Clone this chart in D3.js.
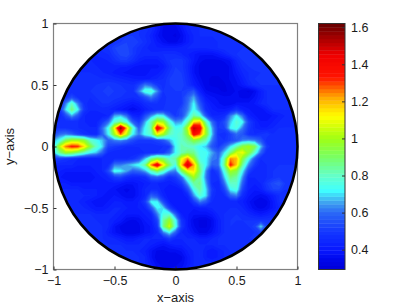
<!DOCTYPE html>
<html lang="en">
<head>
<meta charset="UTF-8">
<title>Disc map</title>
<script src="https://d3js.org/d3.v7.min.js"></script>
<style>
  body { margin: 0; background: #fff; overflow: hidden; }
  text { font-family: "Liberation Sans", Arial, sans-serif; fill: #1a1a1a; }
</style>
</head>
<body>
<script>
// field values x 100, rows run y = 1 .. -1, columns x = -1 .. 1, step 0.05
const fieldRows = [
[45,45,45,45,45, 45,45,45,45,45, 45,45,45,45,46, 45,44,40,36,35, 36,40,44,45,46, 46,46,46,46,46, 46,46,46,46,46, 46,46,46,46,46, 46],
[45,45,45,45,45, 45,45,45,45,45, 45,46,47,47,48, 47,45,40,35,34, 34,38,43,45,46, 46,46,46,46,46, 46,46,46,46,46, 46,46,46,46,46, 46],
[45,45,45,45,45, 45,45,45,45,46, 48,49,50,50,48, 46,43,38,35,34, 33,36,41,44,46, 46,46,47,47,47, 47,47,47,47,47, 47,47,47,47,47, 47],
[45,45,45,45,45, 45,45,45,46,46, 48,50,52,52,50, 47,44,40,37,35, 35,37,41,44,45, 45,45,46,46,47, 47,47,47,47,47, 47,47,47,47,47, 47],
[45,45,45,45,45, 46,46,46,47,48, 52,54,53,50,47, 45,42,42,42,42, 42,43,44,44,44, 44,45,46,47,47, 47,48,48,48,48, 48,48,48,48,48, 48],
[45,45,45,45,45, 44,44,44,45,46, 50,53,54,50,46, 45,45,45,46,46, 46,44,42,40,38, 38,38,40,43,46, 48,48,48,48,48, 48,48,48,48,48, 48],
[45,45,45,45,45, 44,44,43,43,44, 47,50,50,47,43, 41,41,41,44,48, 49,49,45,40,36, 35,35,35,36,38, 44,48,49,50,50, 50,50,50,50,50, 50],
[45,45,45,45,45, 44,44,44,43,43, 43,42,42,40,39, 39,39,39,41,46, 50,49,44,38,35, 34,34,34,34,36, 42,46,48,50,50, 50,50,50,50,50, 50],
[46,46,46,46,46, 46,46,45,44,43, 41,40,39,38,38, 38,41,41,44,48, 51,50,45,38,35, 34,34,34,34,36, 40,44,46,47,48, 48,48,48,48,48, 48],
[47,47,47,47,47, 47,47,47,46,46, 45,44,43,42,41, 41,42,44,46,50, 52,51,46,40,36, 34,33,33,34,36, 38,42,46,48,49, 49,49,49,49,49, 49],
[47,47,47,47,47, 47,47,48,49,50, 50,48,47,46,52, 62,58,50,47,50, 51,52,47,42,38, 34,33,33,33,35, 37,40,44,47,48, 48,48,48,48,48, 48],
[46,46,46,46,46, 46,48,50,50,51, 50,49,48,47,62, 76,78,64,48,50, 50,50,52,56,42, 36,35,34,33,34, 36,34,33,36,42, 46,47,47,47,47, 47],
[45,46,48,54,48, 46,46,48,50,50, 49,48,47,46,48, 54,62,54,46,50, 50,50,58,66,50, 40,38,37,36,36, 36,35,35,38,42, 46,46,46,46,46, 46],
[44,46,62,80,62, 48,44,46,48,48, 46,44,42,40,42, 46,48,48,47,50, 50,50,60,72,56, 44,40,38,36,36, 38,38,38,40,44, 46,46,46,46,46, 46],
[43,48,70,88,72, 50,44,44,45,44, 42,40,38,36,38, 42,45,47,48,48, 48,54,62,74,62, 46,42,40,40,42, 48,42,40,38,38, 42,46,46,46,46, 46],
[44,44,54,66,56, 44,43,43,43,44, 66,68,60,44,42, 54,64,74,72,58, 50,54,68,84,76, 56,44,44,46,62, 72,60,43,40,38, 38,40,42,44,44, 44],
[46,46,46,46,46, 44,43,43,50,60, 78,86,76,58,50, 66,84,105,100,78, 64,66,82,115,120, 82,60,48,54,68, 78,72,52,44,40, 40,42,44,45,45, 45],
[48,48,48,46,46, 45,44,44,60,74, 112,160,120,78,58, 72,84,145,125,90, 74,76,104,152,142, 96,66,50,52,72, 76,62,50,44,42, 42,44,46,46,46, 46],
[54,60,62,58,52, 48,46,45,58,72, 100,128,104,72,62, 74,80,112,100,82, 76,80,96,140,128, 98,68,48,46,52, 60,56,48,46,48, 50,46,46,46,46, 46],
[66,74,92,100,100, 96,80,74,68,58, 62,64,60,54,50, 50,50,52,56,66, 74,80,86,96,90, 82,62,50,48,52, 56,62,64,62,56, 46,46,46,46,46, 46],
[72,104,126,134,132, 116,96,80,70,52, 50,48,46,46,46, 46,46,47,48,50, 72,82,80,78,72, 68,56,50,58,70, 82,95,100,92,68, 50,46,46,46,46, 46],
[68,86,98,95,88, 80,72,68,58,46, 44,44,44,44,45, 46,46,48,50,58, 72,82,88,86,74, 74,66,58,70,88, 106,110,96,78,58, 46,46,46,46,46, 46],
[50,50,48,46,44, 42,42,42,44,45, 46,46,46,48,54, 68,86,96,90,80, 84,110,125,100,76, 72,62,60,82,125, 120,94,74,56,46, 46,46,46,46,46, 46],
[44,44,44,44,42, 42,42,42,44,46, 62,62,66,70,74, 85,125,145,115,90, 74,118,150,122,84, 72,58,60,86,135, 118,84,62,50,44, 46,47,48,48,48, 48],
[42,42,40,40,40, 40,40,42,44,54, 74,72,66,58,60, 66,80,92,80,66, 62,90,110,115,90, 64,46,52,76,100, 94,72,52,44,44, 46,48,48,48,48, 48],
[40,40,38,38,38, 38,38,40,42,44, 50,52,46,44,44, 46,56,58,54,46, 50,60,82,100,84, 62,46,48,68,88, 84,64,44,44,44, 46,48,50,50,50, 50],
[42,42,42,40,40, 40,40,40,40,41, 41,40,38,38,40, 42,44,44,42,42, 44,50,66,84,86, 66,46,44,60,80, 80,58,42,42,44, 50,54,56,50,50, 50],
[44,44,44,44,44, 42,42,42,40,40, 38,36,35,36,40, 44,46,46,42,40, 40,42,54,74,84, 70,50,44,52,72, 76,52,42,40,42, 48,52,52,48,48, 48],
[44,44,44,44,44, 44,44,42,40,38, 40,38,36,36,40, 44,58,54,44,40, 40,40,44,64,78, 70,48,44,46,58, 62,46,40,38,36, 38,42,46,46,46, 46],
[44,44,44,44,44, 42,40,38,38,40, 42,42,40,40,42, 50,72,72,54,42, 40,40,40,50,62, 56,46,44,44,44, 44,42,38,35,34, 35,40,46,46,46, 46],
[44,44,44,44,44, 44,42,40,40,42, 44,44,42,41,42, 44,56,72,70,52, 42,40,40,40,42, 42,44,44,44,46, 46,44,40,36,35, 36,40,44,44,44, 44],
[46,46,46,46,46, 46,46,44,44,44, 44,42,40,40,40, 42,44,62,76,78, 58,42,40,38,38, 38,40,44,46,46, 48,46,44,42,40, 42,44,44,44,44, 44],
[47,47,47,47,47, 47,46,46,45,44, 42,40,36,35,36, 40,42,52,84,98, 74,48,40,35,33, 33,36,42,46,48, 48,48,48,48,48, 48,48,48,48,48, 48],
[46,46,46,46,46, 46,46,46,46,44, 38,35,34,34,35, 38,40,48,86,106, 76,50,40,36,33, 33,36,42,46,48, 46,46,48,52,70, 52,50,50,50,50, 50],
[46,46,46,46,46, 46,46,46,46,42, 38,36,34,34,35, 38,40,44,62,72, 58,44,42,38,35, 35,38,42,46,46, 46,46,46,48,52, 48,48,48,48,48, 48],
[46,46,46,46,46, 46,46,46,46,45, 44,42,40,40,42, 44,44,44,44,50, 44,44,44,44,42, 42,44,46,46,48, 48,48,48,48,48, 48,48,48,48,48, 48],
[46,46,46,46,46, 46,46,46,46,46, 46,46,44,44,44, 44,42,40,38,40, 42,42,44,44,44, 44,44,46,46,46, 46,46,46,46,46, 46,46,46,46,46, 46],
[46,46,46,46,46, 46,46,46,46,46, 46,46,46,46,44, 42,38,35,35,36, 36,38,42,44,46, 42,40,42,44,46, 46,46,46,46,46, 46,46,46,46,46, 46],
[46,46,46,46,46, 46,46,46,46,46, 46,46,46,46,46, 44,38,34,34,34, 34,35,40,44,46, 42,40,42,44,46, 46,46,46,46,46, 46,46,46,46,46, 46],
[46,46,46,46,46, 46,46,46,46,46, 46,46,46,46,46, 44,40,36,34,34, 35,36,40,44,45, 45,45,46,46,46, 46,46,46,46,46, 46,46,46,46,46, 46],
[46,46,46,46,46, 46,46,46,46,46, 46,46,46,46,46, 44,42,38,36,36, 36,38,42,44,45, 45,45,46,46,46, 46,46,46,46,46, 46,46,46,46,46, 46]
];
const xTicks = [-1, -0.5, 0, 0.5, 1];
const yTicks = [-1, -0.5, 0, 0.5, 1];
const cbarTicks = [0.4, 0.6, 0.8, 1, 1.2, 1.4, 1.6];
const colorStops = [0.293, 0.35, 0.40, 0.50, 0.60, 0.66, 0.72, 0.80, 0.90, 1.00, 1.12, 1.22, 1.33, 1.45, 1.55, 1.62];
const colorVals = ["#0000d8", "#0008ec", "#0818ff", "#1438ff", "#2c68f6", "#40a8f0", "#40ffff", "#64ffc8", "#78ff64", "#a0ff14",
  "#ffff00", "#ffaa00", "#ff1400", "#f00000", "#a00000", "#640000"];

const width = 407, height = 307;
const nLevels = 64;
const vMin = 0.293, vMax = 1.62;
const minusFmt = d => String(d).replace("-", "\u2212");

const svg = d3.select("body").append("svg")
  .attr("width", width).attr("height", height)
  .style("display", "block");

const x = d3.scaleLinear().domain([-1, 1]).range([53.5, 297.5]);
const y = d3.scaleLinear().domain([-1, 1]).range([269.5, 23.5]);
const color = d3.scaleLinear().domain(colorStops).range(colorVals);
const levels = d3.range(nLevels).map(i => vMin + (vMax - vMin) * i / nLevels);
// each band takes the colour of its own level, so the map matches the colorbar
const bandColor = i => color(vMin + (vMax - vMin) * (i + 0.5) / nLevels);

// the disc
const nCols = fieldRows[0].length, nRows = fieldRows.length;
const flat = fieldRows.flat().map(d => d / 100);
const contours = d3.contours().size([nCols, nRows]).smooth(true).thresholds(levels)(flat);
const gridToPx = d3.geoTransform({
  point(gx, gy) {
    this.stream.point(x(-1 + 2 * (gx - 0.5) / (nCols - 1)), y(1 - 2 * (gy - 0.5) / (nRows - 1)));
  }
});
const path = d3.geoPath(gridToPx);

svg.append("clipPath").attr("id", "disc")
  .append("ellipse")
  .attr("cx", x(0)).attr("cy", y(0))
  .attr("rx", x(1) - x(0)).attr("ry", y(0) - y(1));

svg.append("g").attr("clip-path", "url(#disc)")
  .selectAll("path")
  .data(contours)
  .join("path")
  .attr("d", path)
  .attr("fill", (d, i) => bandColor(i));

// axes box
const xAxis = d3.axisBottom(x).tickValues(xTicks).tickFormat(minusFmt).tickSize(-3).tickPadding(7);
const yAxis = d3.axisLeft(y).tickValues(yTicks).tickFormat(minusFmt).tickSize(-3).tickPadding(5);
const styleAxis = g => {
  g.select(".domain").remove();
  g.selectAll("line").attr("stroke", "#333");
  g.selectAll("text").style("font-size", "12.5px").attr("fill", "#1a1a1a");
};
svg.append("rect")
  .attr("x", x(-1)).attr("y", y(1))
  .attr("width", x(1) - x(-1)).attr("height", y(-1) - y(1))
  .attr("fill", "none").attr("stroke", "#808080").attr("stroke-width", 1.2);
svg.append("g").attr("transform", `translate(0,${y(-1)})`).call(xAxis).call(styleAxis);
svg.append("g").attr("transform", `translate(${x(-1)},0)`).call(yAxis).call(styleAxis);

svg.append("ellipse")
  .attr("cx", x(0)).attr("cy", y(0))
  .attr("rx", x(1) - x(0)).attr("ry", y(0) - y(1))
  .attr("fill", "none").attr("stroke", "#000").attr("stroke-width", 2.6);

svg.append("text").attr("x", x(0)).attr("y", 302)
  .attr("text-anchor", "middle").style("font-size", "13px").text("x\u2212axis");
svg.append("text").attr("transform", `translate(14,${y(0)}) rotate(-90)`)
  .attr("text-anchor", "middle").style("font-size", "13px").text("y\u2212axis");

// colorbar
const cbX0 = 318.5, cbX1 = 345;
const cb = d3.scaleLinear().domain([vMin, vMax]).range([269.5, 23.5]);
svg.append("g").selectAll("rect")
  .data(d3.range(nLevels))
  .join("rect")
  .attr("x", cbX0).attr("width", cbX1 - cbX0)
  .attr("y", i => cb(levels[i] + (vMax - vMin) / nLevels))
  .attr("height", (cb.range()[0] - cb.range()[1]) / nLevels + 0.4)
  .attr("fill", i => bandColor(i));
svg.append("rect")
  .attr("x", cbX0).attr("y", cb(vMax))
  .attr("width", cbX1 - cbX0).attr("height", cb(vMin) - cb(vMax))
  .attr("fill", "none").attr("stroke", "#333").attr("stroke-width", 1);
const cbAxis = d3.axisRight(cb).tickValues(cbarTicks).tickFormat(d => String(d)).tickSize(-3).tickPadding(6);
svg.append("g").attr("transform", `translate(${cbX1},0)`).call(cbAxis).call(styleAxis);
</script>
</body>
</html>
